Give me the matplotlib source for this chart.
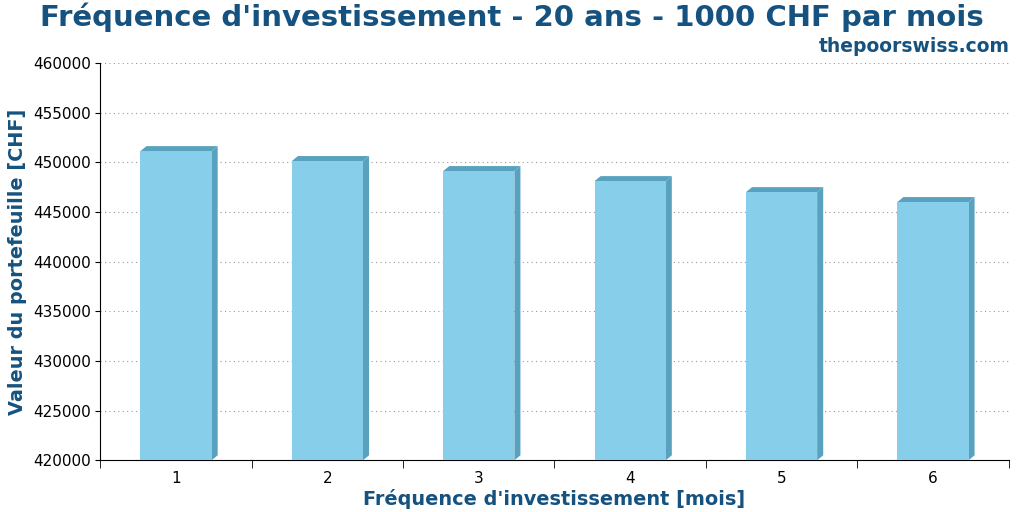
import matplotlib
matplotlib.use("Agg")
import matplotlib.pyplot as plt
from matplotlib.patches import Polygon

categories = ["1", "2", "3", "4", "5", "6"]
values = [451130, 450130, 449120, 448110, 447000, 446000]

front = "#87CEEB"
side = "#58A2BF"
tcol = "#16527F"

fig = plt.figure(figsize=(10.24, 5.12), dpi=100)
ax = fig.add_axes([0.098, 0.101, 0.887, 0.776])
ymin, ymax = 420000, 460000
ax.set_xlim(0, len(categories))
ax.set_ylim(ymin, ymax)
w = 0.47
dx = 0.04
dy = 500
for i, v in enumerate(values):
    c = i + 0.5
    x0, x1 = c - w / 2, c + w / 2
    ax.add_patch(Polygon([(x1, ymin), (x1 + dx, ymin + dy), (x1 + dx, v + dy), (x1, v)], closed=True, color=side, zorder=3, lw=0))
    ax.add_patch(Polygon([(x0, v), (x0 + dx, v + dy), (x1 + dx, v + dy), (x1, v)], closed=True, color=side, zorder=3, lw=0))
    ax.bar(c, v - ymin, bottom=ymin, width=w, color=front, zorder=4)

ax.set_xticks([i + 0.5 for i in range(len(categories))])
ax.set_xticklabels(categories, fontsize=11)
ax.set_xticks(range(len(categories) + 1), minor=True)
ax.tick_params(axis="x", which="major", length=0, pad=8)
ax.tick_params(axis="x", which="minor", length=6)
ax.set_yticks(range(ymin, ymax + 1, 5000))
ax.tick_params(axis="y", labelsize=11)
ax.yaxis.grid(True, linestyle=(0, (1, 3)), color="#999999", zorder=0)
ax.spines["top"].set_visible(False)
ax.spines["right"].set_visible(False)
ax.set_xlabel("Fréquence d'investissement [mois]", fontsize=13.9, fontweight="bold", color=tcol, labelpad=2)
ax.set_ylabel("Valeur du portefeuille [CHF]", fontsize=13.9, fontweight="bold", color=tcol)
fig.text(0.5, 0.967, "Fréquence d'investissement - 20 ans - 1000 CHF par mois", ha="center", va="center", fontsize=21, fontweight="bold", color=tcol)
fig.text(0.986, 0.91, "thepoorswiss.com", ha="right", va="center", fontsize=13.5, fontweight="bold", color=tcol)
fig.savefig("out.png", dpi=100)
